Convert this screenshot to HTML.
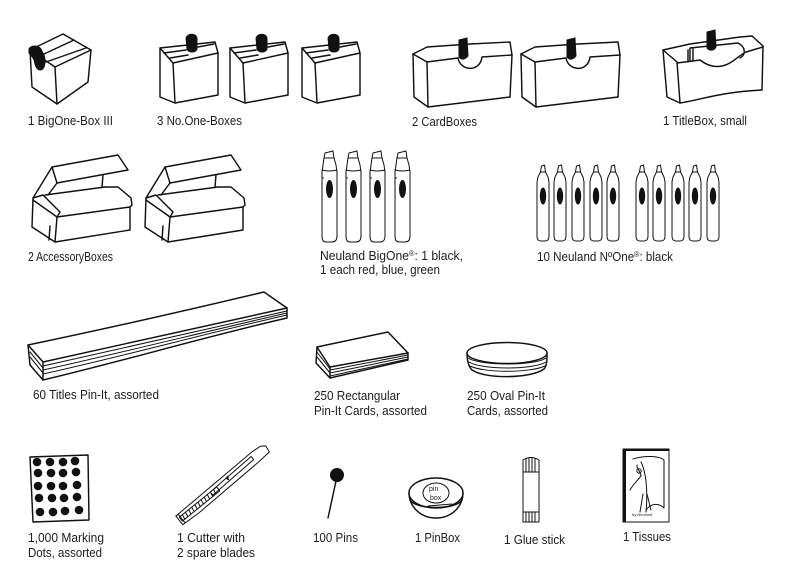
<!DOCTYPE html>
<html>
<head>
<meta charset="utf-8">
<style>
html,body{margin:0;padding:0;background:#fff;}
svg{display:block;}
.s{fill:none;stroke:#111;stroke-width:1.45;stroke-linecap:round;stroke-linejoin:round;}
.t{stroke-width:1;}
.b{fill:#111;stroke:#111;stroke-width:1;}
text.l{font-family:"Liberation Sans",sans-serif;font-size:13px;fill:#1c1c1c;}
</style>
</head>
<body>
<svg width="800" height="582" viewBox="0 0 800 582" xmlns="http://www.w3.org/2000/svg">
<rect width="800" height="582" fill="#fff"/>

<!-- BigOne-Box -->
<g class="s">
<path d="M30,50 L63,34 L91,50 L55,67 Z"/>
<path d="M30,50 L32,87 L57,104 L88,82 L91,50"/>
<path d="M55,67 L57,104"/>
<path d="M44,54 L74,40 M46,62 L86,48"/>
</g>
<path class="b" d="M29,49 C31,45 38,45 41,49 L44,55 C46,62 45,70 40,70 C36,70 35,64 34,60 C33,57 30,55 29,53 Z"/>

<!-- No.One boxes -->
<g id="nob">
<g class="s">
<path d="M160,48 L215,42 L218,53 L173,63 Z"/>
<path d="M173,63 L175,103 L218,95 L218,53"/>
<path d="M160,48 L160,97 L175,103"/>
<path d="M164,53 L186,50 M170,58 L188,55 M198,47 L214,44"/>
</g>
<path class="b" d="M186,38 C188,33 196,33 197,38 L197,49 C196,53 188,53 187,49 Z"/>
</g>
<use href="#nob" x="70" y="0"/>
<use href="#nob" x="142" y="0"/>

<!-- CardBoxes -->
<g id="cb">
<g class="s">
<path d="M413,54 L427,47 L470,44 L510,42 L512,55"/>
<path d="M413,54 L414,97 L428,107"/>
<path d="M413,54 L427,62"/>
<path d="M427,62 L458,58 C460,71 480,73 482,57 L512,55"/>
<path d="M427,62 L428,107"/>
<path d="M512,55 L510,97"/>
<path d="M428,107 L510,97"/>
</g>
<path class="b" d="M459,40 L467,38 L468,56 C465,60 461,60 459,57 Z"/>
</g>
<use href="#cb" x="108" y="0"/>

<!-- TitleBox -->
<g class="s">
<path d="M663,50 L667,97 L680,103"/>
<path d="M663,50 L677,62 L680,103"/>
<path d="M663,50 L690,44 L740,37 L752,36 L763,46"/>
<path d="M677,63 L700,60 C705,64 712,68 722,66 C732,64 738,56 746,52 L763,47"/>
<path d="M690,60 L690,48 L738,43 C746,47 746,55 740,58"/>
<path d="M688,50 L688,62 M693,49 L693,61"/>
<path d="M763,46 L762,90"/>
<path d="M680,103 C700,100 720,92 762,90"/>
</g>
<path class="b" d="M707,32 L715,30 L716,47 C714,51 709,51 707,48 Z"/>

<!-- AccessoryBoxes -->
<g id="ab" class="s">
<path d="M52,167 L118,155 L128,170 L57,183 Z"/>
<path d="M52,167 L33,198"/>
<path d="M57,183 L48,195"/>
<path d="M103,175 L102,187"/>
<path d="M45,195 L105,187"/>
<path d="M33,198 L43,195 L60,212 L57,217 L33,200"/>
<path d="M105,187 L118,187 L131,198 L132,205 L130,207"/>
<path d="M57,217 L130,207 L130,230 L55,242 Z"/>
<path d="M33,198 L32,227 L55,242"/>
<path d="M50,226 L49,240"/>
</g>
<use href="#ab" x="113" y="0"/>

<!-- BigOne markers -->
<g id="bm">
<g class="s t">
<path d="M325,153 L333,151 L334,158 L336,165 L337,172 L337,236 Q337,242 332,242 L326,242 Q322,242 322,236 L322,172 L323,165 L324,158 Z"/>
<path d="M324,158 L334,158"/>
<path d="M322,170 Q329,172 337,170"/>
<path d="M322,178 L323.5,178"/>
</g>
<ellipse cx="329.5" cy="189" rx="3.5" ry="9" fill="#111"/>
</g>
<use href="#bm" x="24" y="0"/>
<use href="#bm" x="48" y="0"/>
<use href="#bm" x="73" y="0"/>

<!-- NoOne markers -->
<g id="nm">
<g class="s t">
<path d="M541.5,166 L544.5,165 L545.5,172 L548,177 L549,182 L549,236 Q549,241 545,241 L541,241 Q537,241 537,236 L537,182 L538,177 L540.5,172 Z"/>
<path d="M540.5,172 L545.5,172"/>
</g>
<ellipse cx="543" cy="196" rx="3.2" ry="8.5" fill="#111"/>
</g>
<use href="#nm" x="17" y="0"/>
<use href="#nm" x="35" y="0"/>
<use href="#nm" x="53" y="0"/>
<use href="#nm" x="70" y="0"/>
<use href="#nm" x="99" y="0"/>
<use href="#nm" x="116" y="0"/>
<use href="#nm" x="135" y="0"/>
<use href="#nm" x="152" y="0"/>
<use href="#nm" x="170" y="0"/>

<!-- Titles strip -->
<g class="s">
<path d="M28,345 C100,330 180,312 264,292 L287,308 C200,328 120,345 43,362 Z"/>
<path d="M28,345 L30,365 L43,380"/>
<path d="M43,362 L43,380"/>
<path d="M43,380 C120,362 200,338 287,318 L287,308"/>
</g>
<g class="s t">
<path d="M43,366 C120,349 200,330 287,311"/>
<path d="M43,370 C120,353 200,333 287,313"/>
<path d="M43,374 C120,357 200,335 287,315"/>
<path d="M30,352 L43,368 M30,357 L43,373"/>
</g>

<!-- Rect cards -->
<g class="s">
<path d="M317,347 L388,332 L408,353 L330,367 Z"/>
<path d="M317,347 L316,363 L330,378 L408,360 L408,353"/>
<path d="M330,367 L330,378"/>
</g>
<g class="s t">
<path d="M330,370 L408,355 M330,373 L408,357 M330,376 L408,359"/>
<path d="M317,352 L330,369 M317,357 L330,373"/>
</g>

<!-- Oval cards -->
<g class="s">
<ellipse cx="507" cy="353" rx="40" ry="10.5"/>
<path d="M467,353 C467,360 468,366 472,370 C485,379 530,379 544,369 C547,366 547,360 547,353"/>
</g>
<g class="s t">
<path d="M468,358 C480,366 535,366 546,358"/>
<path d="M469,362 C482,370 533,370 546,362"/>
<path d="M470,366 C484,373 530,373 545,366"/>
</g>

<!-- Marking dots -->
<path class="s" d="M30,457 L88,455 L89,520 L33,522 Z"/>
<g fill="#111">
<circle cx="37" cy="462" r="4.3"/><circle cx="50" cy="462" r="4.3"/><circle cx="63" cy="462" r="4.3"/><circle cx="75" cy="461" r="4.3"/>
<circle cx="38" cy="473" r="4.3"/><circle cx="51" cy="473" r="4.3"/><circle cx="63" cy="473" r="4.3"/><circle cx="76" cy="472" r="4.3"/>
<circle cx="38" cy="486" r="4.3"/><circle cx="51" cy="486" r="4.3"/><circle cx="63" cy="486" r="4.3"/><circle cx="77" cy="485" r="4.3"/>
<circle cx="39" cy="498" r="4.3"/><circle cx="52" cy="498" r="4.3"/><circle cx="64" cy="498" r="4.3"/><circle cx="77" cy="497" r="4.3"/>
<circle cx="40" cy="512" r="4.3"/><circle cx="53" cy="512" r="4.3"/><circle cx="65" cy="511" r="4.3"/><circle cx="79" cy="510" r="4.3"/>
</g>

<!-- Cutter -->
<g transform="translate(179,520) rotate(-39)">
<g class="s t">
<path d="M0,-5 L100,-7 L110,-6 L114,-3 L113,4 L98,5 L20,7 L0,6 Z"/>
<path d="M42,-2 L96,-4 L96,0 L42,2 Z"/>
<path d="M2,-2 L50,-2 L50,3 L2,3 Z"/>
<path d="M6,-2 L5,3 M10,-2 L9,3 M14,-2 L13,3 M18,-2 L17,3 M22,-2 L21,3 M26,-2 L25,3 M30,-2 L29,3 M34,-2 L33,3 M38,-2 L37,3 M42,-2 L41,3 M46,-2 L45,3"/>
<path d="M0,-5 L3,-5 L3,6"/>
</g>
<path d="M62,-3 L66,-4 L64,1 Z" fill="#111"/>
</g>

<!-- Pin -->
<circle cx="337" cy="475" r="7" fill="#111"/>
<path class="s" d="M336,481 L328,518"/>

<!-- PinBox -->
<g class="s">
<ellipse cx="436" cy="493" rx="27" ry="15"/>
<path d="M409,493 C409,506 420,518 436,518 C452,518 463,506 463,493"/>
<path d="M410,500 C416,510 456,510 462,500"/>
<ellipse cx="436" cy="493" rx="13" ry="10" class="s t"/>
<path class="t" d="M428,506 L452,504"/>
</g>
<text x="429" y="491" font-family="Liberation Sans,sans-serif" font-size="7" fill="#222">pin</text>
<text x="430" y="500" font-family="Liberation Sans,sans-serif" font-size="7" fill="#222">box</text>

<!-- Glue stick -->
<g class="s t">
<path d="M523,460 Q531,455 539,460 L539,522 L523,522 Z"/>
<path d="M523,472 L539,472 M523,512 L539,512"/>
<path d="M526,459 L526,472 M529,458 L529,472 M532,458 L532,472 M535,459 L535,472"/>
<path d="M526,512 L526,522 M529,512 L529,522 M532,512 L532,522 M535,512 L535,522"/>
</g>

<!-- Tissues -->
<g>
<path class="s t" d="M623,449 L669,449 L669,522 L623,522 Z"/>
<path d="M623,449 L669,449 L669,451 L626,451 L626,522 L623,522 Z" fill="#111"/>
<g class="s t">
<path d="M633,459 C645,455 660,456 664,460 L664,508 C658,502 650,504 646,510"/>
<path d="M641,462 C646,472 648,490 646,512"/>
<path d="M641,476 C636,482 632,486 630,490"/>
<path d="M641,476 C640,470 636,468 637,465"/>
<path d="M643,494 L640,512 M647,494 L651,510"/>
<circle cx="639" cy="471" r="2.2"/>
</g>
<text x="632" y="516" font-family="Liberation Sans,sans-serif" font-size="4" fill="#222">by Neuland</text>
</g>

<!-- Labels -->
<text class="l" x="28" y="125" textLength="85" lengthAdjust="spacingAndGlyphs">1 BigOne-Box III</text>
<text class="l" x="157" y="125" textLength="85" lengthAdjust="spacingAndGlyphs">3 No.One-Boxes</text>
<text class="l" x="412" y="126" textLength="65" lengthAdjust="spacingAndGlyphs">2 CardBoxes</text>
<text class="l" x="663" y="125" textLength="84" lengthAdjust="spacingAndGlyphs">1 TitleBox, small</text>

<text class="l" x="28" y="261" textLength="85" lengthAdjust="spacingAndGlyphs">2 AccessoryBoxes</text>
<text class="l" x="320" y="260" textLength="143" lengthAdjust="spacingAndGlyphs">Neuland BigOne<tspan font-size="8" baseline-shift="super">®</tspan>: 1 black,</text>
<text class="l" x="320" y="274" textLength="120" lengthAdjust="spacingAndGlyphs">1 each red, blue, green</text>
<text class="l" x="537" y="261" textLength="136" lengthAdjust="spacingAndGlyphs">10 Neuland NºOne<tspan font-size="8" baseline-shift="super">®</tspan>: black</text>

<text class="l" x="33" y="399" textLength="126" lengthAdjust="spacingAndGlyphs">60 Titles Pin-It, assorted</text>
<text class="l" x="314" y="400" textLength="86" lengthAdjust="spacingAndGlyphs">250 Rectangular</text>
<text class="l" x="314" y="415" textLength="113" lengthAdjust="spacingAndGlyphs">Pin-It Cards, assorted</text>
<text class="l" x="467" y="400" textLength="78" lengthAdjust="spacingAndGlyphs">250 Oval Pin-It</text>
<text class="l" x="467" y="415" textLength="81" lengthAdjust="spacingAndGlyphs">Cards, assorted</text>

<text class="l" x="28" y="542" textLength="76" lengthAdjust="spacingAndGlyphs">1,000 Marking</text>
<text class="l" x="28" y="557" textLength="74" lengthAdjust="spacingAndGlyphs">Dots, assorted</text>
<text class="l" x="177" y="542" textLength="68" lengthAdjust="spacingAndGlyphs">1 Cutter with</text>
<text class="l" x="177" y="557" textLength="78" lengthAdjust="spacingAndGlyphs">2 spare blades</text>
<text class="l" x="313" y="542" textLength="45" lengthAdjust="spacingAndGlyphs">100 Pins</text>
<text class="l" x="415" y="542" textLength="45" lengthAdjust="spacingAndGlyphs">1 PinBox</text>
<text class="l" x="504" y="544" textLength="61" lengthAdjust="spacingAndGlyphs">1 Glue stick</text>
<text class="l" x="623" y="541" textLength="48" lengthAdjust="spacingAndGlyphs">1 Tissues</text>
</svg>
</body>
</html>
